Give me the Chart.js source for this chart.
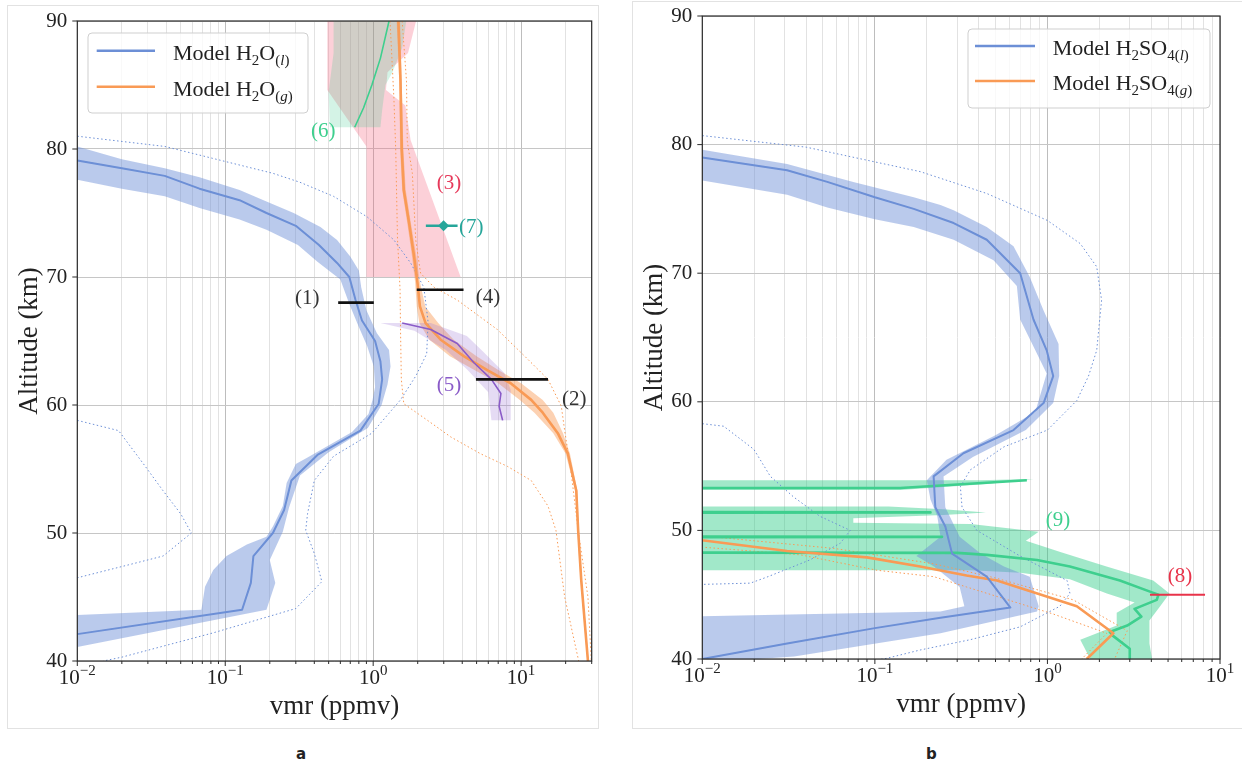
<!DOCTYPE html>
<html><head><meta charset="utf-8"><title>vmr profiles</title>
<script src="https://cdn.jsdelivr.net/npm/chart.js"></script>
<style>
html,body{margin:0;padding:0;background:#fff;}
body{width:1242px;height:767px;position:relative;overflow:hidden;}
canvas{position:absolute;}
#ca{left:7px;top:5px;}
#cb{left:633px;top:1px;}
.frame{position:absolute;border:1px solid #e2e2e2;box-sizing:border-box;}
.cap{position:absolute;font:bold 15px "DejaVu Sans";color:#222;}
</style></head><body>
<div class="frame" style="left:7px;top:5px;width:592px;height:724px"></div>
<div class="frame" style="left:632px;top:1px;width:620px;height:728px"></div>
<canvas id="ca" width="591" height="723"></canvas>
<canvas id="cb" width="609" height="728"></canvas>
<div class="cap" style="left:296px;top:745px">a</div>
<div class="cap" style="left:926px;top:745px">b</div>
<script>
// ---------------- text ----------------
const xTitle = 'vmr (ppmv)';
const yTitle = 'Altitude (km)';
const yTicks = [40, 50, 60, 70, 80, 90];
const xTickValsA = [0.01, 0.1, 1, 10];
const xTickExpA = ['\u22122', '\u22121', '0', '1'];
const xTickValsB = [0.01, 0.1, 1, 10];
const xTickExpB = ['\u22122', '\u22121', '0', '1'];
// legend texts: [text, mode] mode 0 normal, 1 subscript, 2 italic subscript
const legendTextA1 = [['Model H',0],['2',1],['O',0],['(',1],['l',2],[')',1]];
const legendTextA2 = [['Model H',0],['2',1],['O',0],['(',1],['g',2],[')',1]];
const legendTextB1 = [['Model H',0],['2',1],['SO',0],['4(',1],['l',2],[')',1]];
const legendTextB2 = [['Model H',0],['2',1],['SO',0],['4(',1],['g',2],[')',1]];
// annotation labels [text, vmr, altitude]
const notesA = [['(1)',0.358,68.35],['(4)',5.97,68.4],['(2)',22.9,60.4],['(5)',3.25,61.5],['(3)',3.25,77.3],['(7)',4.6,73.9],['(6)',0.46,81.4]];
const notesB = [['(8)',5.87,46.4],['(9)',1.15,50.8]];

// ---------------- panel a data ----------------
const h2oLiqVmr = [0.01,0.02,0.039,0.067,0.125,0.19,0.30,0.43,0.57,0.69,0.76,0.84,1.03,1.12,1.15,1.09,0.82,0.42,0.28,0.25,0.21,0.155,0.149,0.13,0.01];
const h2oLiqAlt = [79.1,78.5,77.9,76.9,76.0,75.0,74.0,72.5,71.1,70.0,68.2,66.6,65.0,63.4,62.0,60.1,58.0,56.1,54.1,51.8,50.0,48.2,46.1,44.0,42.1];
const h2oLiqBandOuter = [[0.01,80.2],[0.02,79.2],[0.039,78.5],[0.067,77.8],[0.125,76.8],[0.19,75.9],[0.29,75.0],[0.44,73.9],[0.57,72.9],[0.70,71.6],[0.80,70.5],[0.83,69.2],[0.90,67.4],[1.06,65.6],[1.28,64.3],[1.31,63.0],[1.25,61.6],[1.14,60.0],[0.92,58.2],[0.50,56.3],[0.32,54.5],[0.27,52.0],[0.245,50.1],[0.20,47.9],[0.218,46.1],[0.19,44.0],[0.01,41.1]];
const h2oLiqBandInner = [[0.01,43.6],[0.069,44.0],[0.073,45.8],[0.083,47.1],[0.102,48.2],[0.14,49.1],[0.19,49.7],[0.21,50.5],[0.245,52.1],[0.26,53.9],[0.30,55.4],[0.36,55.9],[0.72,57.9],[0.93,59.3],[0.99,60.4],[1.03,61.4],[1.01,63.0],[0.91,64.6],[0.80,66.1],[0.69,67.9],[0.60,69.8],[0.42,71.2],[0.31,72.5],[0.19,73.7],[0.125,74.5],[0.067,75.4],[0.039,76.3],[0.02,76.9],[0.01,77.6]];
const h2oLiqMax = [[0.01,81.0],[0.039,80.2],[0.21,78.1],[0.32,77.4],[0.54,76.3],[0.91,74.7],[1.38,72.9],[1.79,71.1],[2.2,69.2],[2.35,66.5],[2.3,64.0],[1.95,62.3],[1.53,60.4],[0.98,57.8],[0.54,56.0],[0.40,54.1],[0.36,51.5],[0.35,50.2],[0.40,48.4],[0.45,46.2],[0.30,44.1],[0.083,42.2],[0.02,40.3],[0.015,40.0]];
const h2oLiqMin = [[0.01,58.8],[0.019,58.0],[0.028,55.4],[0.038,53.3],[0.050,51.5],[0.059,50.0],[0.038,48.2],[0.022,47.5],[0.01,46.5]];

const h2oGasAlt = [90,85.3,80,76.8,74.2,71.6,69.6,67.7,66.4,65.1,63.8,62.7,61.7,60.4,59.4,57.8,56.2,53.3,50.2,46.3,40];
const h2oGasVmr = [1.48,1.53,1.56,1.61,1.75,1.89,1.99,2.07,2.26,2.86,4.12,5.94,8.5,11.7,14.0,17.7,20.7,23.6,24.3,25.5,28.3];
const h2oGasLo  = [1.44,1.50,1.52,1.57,1.70,1.83,1.92,1.97,2.05,2.4,3.3,4.9,7.0,9.8,12.3,16.5,20.0,23.2,24.0,25.2,28.0];
const h2oGasHi  = [1.52,1.56,1.60,1.66,1.80,1.96,2.07,2.25,2.75,3.5,5.0,7.1,10.0,14.0,16.5,19.2,21.4,24.0,24.6,25.8,28.6];
const h2oGasMin = [[1.30,90],[1.38,84],[1.42,80],[1.46,73],[1.52,69],[1.53,66],[1.55,62],[1.61,60.1],[2.33,58.8],[3.35,57.5],[5.3,56.2],[8.1,55.2],[11.7,54.1],[15.2,52.1],[17.2,50.2],[19.7,45],[24.5,40]];
const h2oGasMax = [[1.57,90],[1.68,85.3],[1.70,80.6],[1.84,78.1],[1.94,72.9],[2.09,70.3],[2.58,69.2],[3.7,68.2],[6.9,65.9],[10.6,63.8],[15.2,62.0],[18.7,59.9],[19.7,58.0],[21.8,54.7],[24.3,50.2],[28.3,45.0],[29.8,40]];

const obs3Band = [[0.49,90.5],[0.49,84.6],[0.90,80.2],[0.90,70],[3.9,70],[1.79,80.7],[1.65,83.4],[1.22,84.6],[1.25,86.0],[1.72,87.5],[2.0,90.5]];
const obs6Vmr = [0.75,0.86,0.98,1.12,1.28];
const obs6Alt = [81.7,83.2,85.0,87.1,90];
const obs6Band = [[0.54,90.5],[0.54,87.5],[0.50,84.5],[0.51,81.7],[1.12,81.7],[1.15,83.0],[1.21,85.0],[1.35,86.0],[1.57,87.9],[1.70,90.5]];
const obs5Vmr = [1.57,2.45,3.7,4.8,6.3,7.3,7.1,7.5];
const obs5Alt = [66.4,65.9,64.8,63.3,62.0,60.9,59.9,58.8];
const obs5Band = [[1.12,66.4],[2.45,66.4],[4.3,65.4],[5.5,64.2],[7.7,62.5],[8.5,61.2],[8.5,58.8],[6.3,58.8],[6.0,61.0],[4.3,62.8],[3.1,64.3],[1.9,65.8]];
const barAltA = [68, 69, 62];
const barLoA  = [0.58, 1.97, 4.95];
const barHiA  = [1.01, 4.08, 15.2];
const obs7Alt = 74, obs7Lo = 2.27, obs7Hi = 3.72, obs7Vmr = 2.99;

// ---------------- panel b data ----------------
const h2so4LiqVmr = [0.01,0.031,0.1,0.24,0.61,0.445,0.28,0.256,0.224,0.219,0.326,0.636,0.95,1.08,0.99,0.83,0.695,0.445,0.286,0.168,0.1,0.053,0.031,0.01];
const h2so4LiqAlt = [40.0,41.2,42.4,43.2,44.0,46.4,48.2,50.3,51.8,54.2,56.0,57.8,59.9,62.0,64.0,66.4,70.0,72.6,73.9,75.0,75.9,77.1,78.0,79.0];
const h2so4LiqBandOuter = [[0.01,79.6],[0.031,78.5],[0.075,77.1],[0.168,75.9],[0.24,75.3],[0.286,74.9],[0.445,73.6],[0.636,72.1],[0.79,69.7],[0.95,67.1],[1.16,64.5],[1.17,62.0],[1.08,59.9],[0.75,57.8],[0.37,55.7],[0.25,54.2],[0.256,51.8],[0.31,49.5],[0.41,48.2],[0.56,47.2],[0.79,46.4],[0.89,44.1],[0.87,43.7],[0.24,42.0],[0.034,40.2],[0.008,39.6]];
const h2so4LiqBandInner = [[0.008,43.3],[0.24,43.7],[0.33,44.1],[0.31,45.6],[0.22,47.2],[0.174,48.0],[0.24,49.5],[0.23,51.1],[0.21,52.4],[0.2,53.9],[0.26,55.5],[0.5,57.4],[0.85,59.2],[0.99,62.2],[0.83,64.3],[0.695,66.4],[0.665,69.0],[0.487,71.0],[0.286,72.6],[0.168,73.6],[0.1,74.2],[0.053,75.1],[0.031,76.1],[0.01,77.2]];
const h2so4LiqMax = [[0.01,80.7],[0.04,79.8],[0.183,77.9],[0.445,76.2],[1.0,74.1],[1.55,72.3],[1.93,70.5],[2.06,67.9],[1.93,64.0],[1.73,62.0],[1.48,60.1],[1.0,57.8],[0.56,56.5],[0.357,54.7],[0.313,53.4],[0.32,51.8],[0.39,50.0],[0.695,48.0],[1.30,46.1],[1.35,45.1],[1.18,44.1],[0.695,42.5],[0.357,41.5],[0.183,40.7],[0.117,40.05],[0.1,39.9]];
const h2so4LiqMin = [[0.01,58.3],[0.0133,58.1],[0.0199,56.3],[0.0248,54.2],[0.0338,52.6],[0.048,51.1],[0.072,50.0],[0.063,49.0],[0.042,47.7],[0.024,46.4],[0.019,45.9],[0.0099,45.8]];
const h2so4GasVmr = [0.008,0.031,0.09,0.183,0.34,0.51,1.48,2.41,1.69];
const h2so4GasAlt = [49.4,48.4,47.9,47.2,46.5,46.1,44.1,42.0,40.0];
const h2so4GasMax = [[0.008,49.7],[0.058,48.6],[0.22,47.4],[0.5,46.3],[1.41,44.6],[2.9,42.2],[2.45,40.0]];
const h2so4GasMin = [[0.008,48.8],[0.037,48.1],[0.103,46.9],[0.22,46.4],[0.34,45.6],[1.08,43.5],[2.21,42.0],[1.58,40.0]];
const obs9Vmr = [3.0,3.0,2.4,2.3,2.9,3.5,3.2,4.3,4.4,4.0,2.63,1.35,0.87,0.445,0.3,1e-4,1e-4,0.245,1e-4,1e-4,0.21,1e-4,1e-4,0.14,0.76];
const obs9Alt = [40.0,40.8,41.8,42.1,42.6,43.3,43.9,44.6,45.0,45.2,46.1,47.2,47.7,48.1,48.25,48.3,49.45,49.5,49.55,51.35,51.4,51.45,53.3,53.3,53.9];
const obs9BandTop = [[1e-4,53.9],[0.4,53.9],[0.83,54.0],[0.45,53.6],[0.14,53.15],[1e-4,53.15]];
const obs9Band = [[1e-4,51.85],[0.12,51.85],[0.25,51.65],[0.44,51.4],[0.25,51.2],[0.075,50.95],[0.075,50.6],[0.36,50.5],[0.89,49.9],[0.75,49.2],[1.2,48.3],[2.2,47.2],[4.1,46.1],[5.1,45.1],[4.5,44.1],[3.9,43.0],[3.9,41.2],[4.1,39.5],[1.85,39.5],[1.55,41.5],[2.52,42.6],[2.52,43.6],[3.2,44.4],[2.21,45.1],[1.35,46.2],[0.695,46.7],[0.357,46.9],[1e-4,46.9]];
const obs8Alt = 45.0, obs8Lo = 3.93, obs8Hi = 8.19;

// ---------------- styles ----------------
const LS = '"Liberation Serif","Times New Roman",serif';
const BLUE = '#6c8fd6', BLUE_BAND = 'rgba(108,143,214,0.47)';
const ORANGE = '#f99a55', ORANGE_BAND = 'rgba(249,154,85,0.45)';
const PINK = 'rgba(245,100,125,0.30)';
const GREEN = '#3ecf8e', GREEN6_BAND = 'rgba(60,200,140,0.22)', GREEN9_BAND = 'rgba(46,204,135,0.45)';
const PURPLE = '#8a5bc8', PURPLE_BAND = 'rgba(150,110,210,0.25)';
const TEAL = '#26a69a', RED = '#e8334a', RED3 = '#e6395a';
const DOT = [1.5, 2.5];
const noteColorsA = ['#333','#333','#333',PURPLE,RED3,TEAL,GREEN];
const noteColorsB = [RED, GREEN];

// ---------------- helpers ----------------
const xy = pairs => pairs.map(p => ({x: p[0], y: p[1]}));
const zip = (xs, ys) => xs.map((x, i) => ({x, y: ys[i]}));
const isDecade = v => v > 0 && Math.abs(Math.log10(v) - Math.round(Math.log10(v))) < 1e-6;
function logGrid(min, max) {
  const out = [];
  for (let e = -2; e <= 1; e++) for (let m = 1; m <= 9; m++) {
    const v = +(m * Math.pow(10, e)).toPrecision(6);
    if (v >= min - 1e-9 && v <= max + 1e-9) out.push(v);
  }
  return out;
}
function line(data, color, width, order, extra) {
  return Object.assign({data, showLine: true, borderColor: color, backgroundColor: color, borderWidth: width,
    pointRadius: 0, pointHoverRadius: 0, fill: false, order, borderJoinStyle: 'round'}, extra || {});
}
function area(data, color, order) {
  return {data, showLine: true, borderColor: 'rgba(0,0,0,0)', borderWidth: 0, backgroundColor: color,
    fill: 'shape', pointRadius: 0, pointHoverRadius: 0, order};
}
function drawRich(ctx, x, y, segs) {
  ctx.fillStyle = '#222'; ctx.textAlign = 'left'; ctx.textBaseline = 'alphabetic';
  segs.forEach(([t, m]) => {
    const sub = m > 0;
    ctx.font = (m === 2 ? 'italic ' : '') + (sub ? 15 : 22) + 'px ' + LS;
    ctx.fillText(t, x, y + (sub ? 5 : 0));
    x += ctx.measureText(t).width;
  });
}
function deco(cfg) {
  return {id: 'deco', afterDatasetsDraw(chart) {
    const ctx = chart.ctx, ca = chart.chartArea, xs = chart.scales.x, ys = chart.scales.y;
    ctx.save();
    // annotation labels
    ctx.textAlign = 'center'; ctx.textBaseline = 'middle'; ctx.font = '21px ' + LS;
    cfg.notes.forEach((n, i) => { ctx.fillStyle = cfg.noteColors[i]; ctx.fillText(n[0], xs.getPixelForValue(n[1]), ys.getPixelForValue(n[2])); });
    // frame
    ctx.strokeStyle = '#2b2b2b'; ctx.lineWidth = 1.2;
    ctx.strokeRect(ca.left, ca.top, ca.right - ca.left, ca.bottom - ca.top);
    // tick marks
    ctx.lineWidth = 1; ctx.beginPath();
    cfg.grid.forEach(v => { const px = xs.getPixelForValue(v); const L = isDecade(v) ? 5 : 3; ctx.moveTo(px, ca.bottom); ctx.lineTo(px, ca.bottom + L); });
    yTicks.forEach(a => { const py = ys.getPixelForValue(a); ctx.moveTo(ca.left, py); ctx.lineTo(ca.left - 5, py); });
    ctx.stroke();
    // x tick labels with superscript exponent
    ctx.fillStyle = '#222'; ctx.textBaseline = 'alphabetic'; ctx.textAlign = 'left';
    cfg.xTickVals.forEach((v, i) => {
      const px = xs.getPixelForValue(v);
      ctx.font = '21px ' + LS; const w1 = ctx.measureText('10').width;
      ctx.font = '15px ' + LS; const w2 = ctx.measureText(cfg.xTickExp[i]).width;
      const x0 = px - (w1 + w2) / 2, by = ca.bottom + 23;
      ctx.font = '21px ' + LS; ctx.fillText('10', x0, by);
      ctx.font = '15px ' + LS; ctx.fillText(cfg.xTickExp[i], x0 + w1, by - 9);
    });
    // axis titles
    ctx.font = '27px ' + LS; ctx.textAlign = 'center';
    ctx.fillText(xTitle, (ca.left + ca.right) / 2, ca.bottom + 53);
    ctx.save(); ctx.translate(ca.left - 40, (ca.top + ca.bottom) / 2); ctx.rotate(-Math.PI / 2);
    ctx.fillText(yTitle, 0, 0); ctx.restore();
    // legend
    const L = cfg.legend;
    const bx = L.anchor === 'left' ? ca.left + L.dx : ca.right - L.dx - L.w, by = ca.top + L.dy;
    ctx.beginPath(); ctx.roundRect(bx, by, L.w, L.h, 4);
    ctx.fillStyle = 'rgba(255,255,255,0.8)'; ctx.fill();
    ctx.strokeStyle = '#cfcfcf'; ctx.lineWidth = 1; ctx.stroke();
    L.items.forEach((it, i) => {
      const ly = by + L.y0 + i * L.gap;
      ctx.strokeStyle = it.color; ctx.lineWidth = 2.4; ctx.beginPath();
      ctx.moveTo(bx + L.lx0, ly); ctx.lineTo(bx + L.lx1, ly); ctx.stroke();
      drawRich(ctx, bx + L.tx, ly + 9, it.segs);
    });
    ctx.restore();
  }};
}
function makeChart(id, cfg) {
  return new Chart(document.getElementById(id), {
    type: 'scatter',
    data: {datasets: cfg.datasets},
    options: {
      responsive: false, animation: false, devicePixelRatio: 1, events: [],
      layout: {padding: {top: cfg.padTop, right: cfg.padRight, left: 0, bottom: 0}},
      plugins: {legend: {display: false}, tooltip: {enabled: false}},
      scales: {
        x: {type: 'logarithmic', min: cfg.xMin, max: cfg.xMax,
            afterBuildTicks: s => { s.ticks = cfg.grid.map(v => ({value: v})); },
            ticks: {display: false},
            grid: {drawTicks: false, lineWidth: 1, color: c => (c.tick && isDecade(c.tick.value)) ? '#bdbdbd' : '#e2e2e2'},
            border: {display: false},
            afterFit: s => { s.height = cfg.xH; }},
        y: {type: 'linear', min: 40, max: 90,
            ticks: {stepSize: 10, padding: 0, color: '#222', font: {family: LS, size: 21}},
            grid: {color: '#c6c6c6', lineWidth: 1, drawTicks: true, tickLength: 10, tickColor: 'rgba(0,0,0,0)'},
            border: {display: false},
            afterFit: s => { s.width = cfg.yW; }}
      }
    },
    plugins: [deco(cfg)]
  });
}

// ---------------- panel a ----------------
const gridA = logGrid(0.01, 30);
const dsA = [
  area(xy(obs3Band), PINK, 100),
  area(xy(obs6Band), GREEN6_BAND, 99),
  area(xy(h2oLiqBandOuter.concat(h2oLiqBandInner)), BLUE_BAND, 90),
  area(zip(h2oGasLo, h2oGasAlt).concat(zip(h2oGasHi, h2oGasAlt).reverse()), ORANGE_BAND, 90),
  area(xy(obs5Band), PURPLE_BAND, 89),
  line(xy(h2oLiqMax), BLUE, 1, 60, {borderDash: DOT}),
  line(xy(h2oLiqMin), BLUE, 1, 60, {borderDash: DOT}),
  line(xy(h2oGasMin), ORANGE, 1, 60, {borderDash: DOT}),
  line(xy(h2oGasMax), ORANGE, 1, 60, {borderDash: DOT}),
  line(zip(h2oLiqVmr, h2oLiqAlt), BLUE, 2, 30),
  line(zip(h2oGasVmr, h2oGasAlt), ORANGE, 2.6, 30),
  line(zip(obs5Vmr, obs5Alt), PURPLE, 1.6, 29),
  line(zip(obs6Vmr, obs6Alt), GREEN, 1.6, 29),
  ...barAltA.map((a, i) => line([{x: barLoA[i], y: a}, {x: barHiA[i], y: a}], '#111', 2.6, 10)),
  line([{x: obs7Lo, y: obs7Alt}, {x: obs7Hi, y: obs7Alt}], TEAL, 2.6, 6),
  {data: [{x: obs7Vmr, y: obs7Alt}], showLine: false, pointStyle: 'rectRot', pointRadius: 5.5,
   backgroundColor: TEAL, borderColor: TEAL, borderWidth: 0, order: 5}
];
makeChart('ca', {
  datasets: dsA, grid: gridA, xMin: 0.01, xMax: 30, padTop: 16, padRight: 6.3, yW: 70.3, xH: 67,
  xTickVals: xTickValsA, xTickExp: xTickExpA, notes: notesA, noteColors: noteColorsA,
  legend: {anchor: 'left', dx: 10.7, dy: 12, w: 220, h: 80, lx0: 8.7, lx1: 67, tx: 85, y0: 17.7, gap: 36,
    items: [{color: BLUE, segs: legendTextA1}, {color: ORANGE, segs: legendTextA2}]}
});

// ---------------- panel b ----------------
const gridB = logGrid(0.01, 10);
const dsB = [
  area(xy(obs9BandTop), GREEN9_BAND, 100),
  area(xy(obs9Band), GREEN9_BAND, 100),
  area(xy(h2so4LiqBandOuter.concat(h2so4LiqBandInner)), BLUE_BAND, 90),
  line(xy(h2so4LiqMax), BLUE, 1, 60, {borderDash: DOT}),
  line(xy(h2so4LiqMin), BLUE, 1, 60, {borderDash: DOT}),
  line(xy(h2so4GasMax), ORANGE, 1, 60, {borderDash: DOT}),
  line(xy(h2so4GasMin), ORANGE, 1, 60, {borderDash: DOT}),
  line(zip(obs9Vmr, obs9Alt), GREEN, 2.6, 31),
  line(zip(h2so4LiqVmr, h2so4LiqAlt), BLUE, 2, 30),
  line(zip(h2so4GasVmr, h2so4GasAlt), ORANGE, 2.6, 30),
  line([{x: obs8Lo, y: obs8Alt}, {x: obs8Hi, y: obs8Alt}], RED, 2, 10)
];
makeChart('cb', {
  datasets: dsB, grid: gridB, xMin: 0.01, xMax: 10, padTop: 15, padRight: 22, yW: 69.3, xH: 70,
  xTickVals: xTickValsB, xTickExp: xTickExpB, notes: notesB, noteColors: noteColorsB,
  legend: {anchor: 'right', dx: 10, dy: 13, w: 242, h: 79, lx0: 7, lx1: 67, tx: 84.7, y0: 17, gap: 35,
    items: [{color: BLUE, segs: legendTextB1}, {color: ORANGE, segs: legendTextB2}]}
});
</script>
</body></html>
